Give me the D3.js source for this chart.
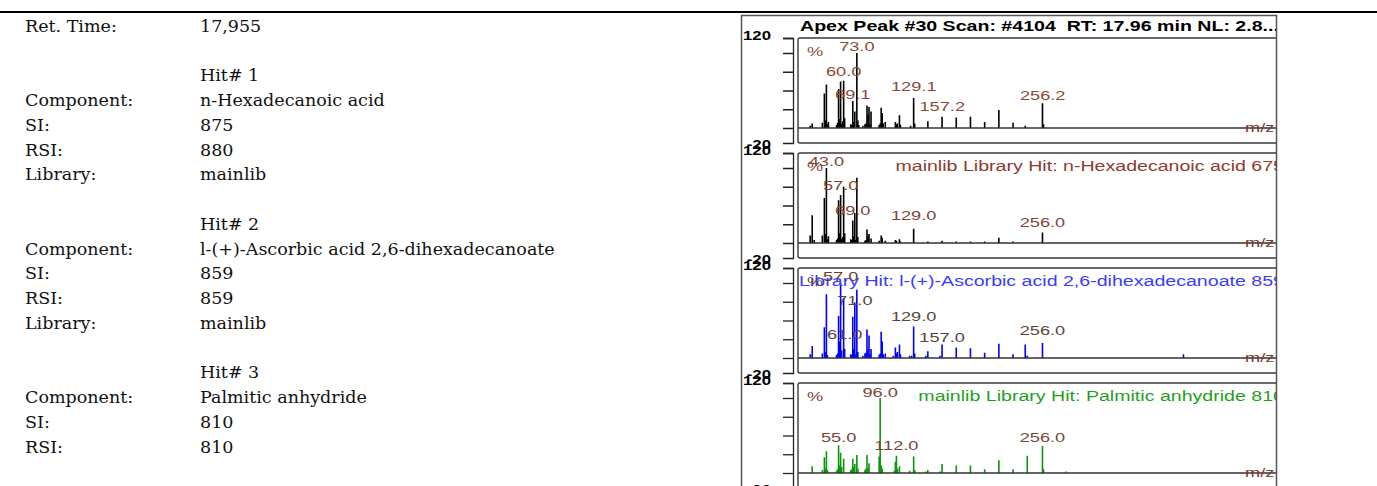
<!DOCTYPE html>
<html><head><meta charset="utf-8">
<script src="https://cdn.jsdelivr.net/npm/d3@7"></script>
<style>html,body{margin:0;padding:0;background:#fff;overflow:hidden}</style>
</head><body>
<svg id="c" width="1377" height="486"></svg>
<script>
// ---------- left table ----------
const rowLabels = ["Ret. Time:", "", "", "Component:", "SI:", "RSI:", "Library:", "", "", "Component:", "SI:", "RSI:", "Library:", "", "", "Component:", "SI:", "RSI:"];
const rowValues = ["17,955", "", "Hit# 1", "n-Hexadecanoic acid", "875", "880", "mainlib", "", "Hit# 2", "l-(+)-Ascorbic acid 2,6-dihexadecanoate", "859", "859", "mainlib", "", "Hit# 3", "Palmitic anhydride", "810", "810"];

// ---------- spectra ----------
const panelTitles = ["Apex Peak #30 Scan: #4104  RT: 17.96 min NL: 2.8...",
  "mainlib Library Hit: n-Hexadecanoic acid 675",
  "Library Hit: l-(+)-Ascorbic acid 2,6-dihexadecanoate 859",
  "mainlib Library Hit: Palmitic anhydride 810"];

const scanMz  = [27,29,39,41,42,43,44,45,53,54,55,56,57,58,59,60,61,67,68,69,70,71,73,74,75,79,81,82,83,84,85,86,87,95,96,97,98,99,101,111,112,113,115,116,126,129,130,143,157,171,185,199,213,227,239,256,257];
const scanInt = [3,6,7,46,10,58,5,8,4,7,52,12,62,6,9,63,13,5,4,36,8,22,100,10,4,3,5,6,30,18,28,5,22,4,6,27,20,6,8,8,5,6,17,4,3,40,6,9,15,14,15,8,24,7,3,33,5];

const hit1Mz  = [27,29,31,39,41,42,43,44,45,53,54,55,56,57,58,59,60,61,67,68,69,70,71,72,73,74,81,82,83,84,85,87,95,97,98,101,111,112,115,116,129,143,157,171,185,199,213,227,256];
const hit1Int = [10,37,4,10,60,12,100,5,9,4,6,57,13,64,5,8,75,13,5,4,30,9,40,4,87,8,3,4,18,9,12,6,3,10,7,3,4,3,5,2,19,2,3,2,2,2,7,2,14];

const hit2Mz  = [27,29,39,41,42,43,44,53,54,55,56,57,58,60,61,67,68,69,70,71,72,73,74,79,81,82,83,84,85,86,87,95,96,97,98,99,101,109,111,112,113,115,116,125,127,129,130,141,143,155,157,171,185,199,213,227,239,241,256,395];
const hit2Int = [5,16,6,41,8,85,4,4,6,56,22,100,10,80,12,5,4,55,12,74,5,91,8,3,6,7,38,12,30,5,12,4,6,35,22,5,6,3,14,6,8,18,5,3,3,42,6,3,9,3,18,14,13,7,19,5,18,3,20,5];

const hit3Mz  = [29,39,41,42,43,44,53,54,55,56,57,58,60,67,68,69,70,71,73,74,81,82,83,84,85,95,96,97,98,110,111,112,113,115,125,129,130,141,143,155,157,171,185,199,213,227,241,256,257,279];
const hit3Int = [9,4,21,6,29,4,3,5,37,10,27,8,19,4,5,19,8,12,24,6,4,6,24,7,13,22,100,10,6,3,15,23,6,9,3,22,4,2,4,2,12,10,10,5,17,5,23,36,5,2];

const scanLabels = ["73.0","60.0","69.1","129.1","157.2","256.2"];
const scanLabelMz = [73,60,69,129.1,157.2,256.2];
const scanLabelLevel = [109,75,45,55,29,44];
const hit1Labels = ["43.0","57.0","69.0","129.0","256.0"];
const hit1LabelMz = [43,57,69,129,256];
const hit1LabelLevel = [109,77,44,37,27];
const hit2Labels = ["57.0","71.0","129.0","61.0","157.0","256.0"];
const hit2LabelMz = [57,71,129,61,157,256];
const hit2LabelLevel = [109,77,56,32,28,37];
const hit3Labels = ["96.0","55.0","112.0","256.0"];
const hit3LabelMz = [96,55,112,256];
const hit3LabelLevel = [107,48,37,48];

const yTicks = [0,25,50,75,100,120];
const yEndLabels = ["120","-20"];

// ---------- drawing ----------
const svg = d3.select("#c");
const SX = 1.4; // horizontal stretch of the pasted spectrum picture

svg.append("line").attr("x1",0).attr("x2",1377).attr("y1",12).attr("y2",12)
  .attr("stroke","#000").attr("stroke-width",2);

const rowY = d3.scaleLinear().domain([0,17]).range([26,446.6]);
const tbl = svg.append("g").style("font-family","'DejaVu Serif', serif").style("font-size","17.5px").attr("fill","#111");
tbl.selectAll("text.l").data(rowLabels).join("text").attr("class","l")
  .attr("x",25).attr("y",(d,i)=>rowY(i)).attr("dominant-baseline","central").text(d=>d);
tbl.selectAll("text.v").data(rowValues).join("text").attr("class","v")
  .attr("x",200).attr("y",(d,i)=>rowY(i)).attr("dominant-baseline","central").text(d=>d);

const defs = svg.append("defs");
defs.append("clipPath").attr("id","clipFig").append("rect")
  .attr("x",741).attr("y",15).attr("width",535.5).attr("height",480);

const fig = svg.append("g").attr("clip-path","url(#clipFig)").style("font-family","'Liberation Sans', Arial, sans-serif");

function stext(g, x, y, txt, size, color, anchor, weight){
  return g.append("text")
    .attr("transform",`translate(${x},${y}) scale(${SX},1)`)
    .attr("text-anchor",anchor||"start").attr("dominant-baseline","central")
    .style("font-size",size+"px").style("font-weight",weight||"normal")
    .style("white-space","pre").attr("fill",color).text(txt);
}

const x = d3.scaleLinear().domain([15,500]).range([798,1290]);

const panels = [
  {mz:scanMz, v:scanInt, lab:scanLabels, lmz:scanLabelMz, lv:scanLabelLevel, bar:"#000", lc:"#8a4a3a", tc:"#000"},
  {mz:hit1Mz, v:hit1Int, lab:hit1Labels, lmz:hit1LabelMz, lv:hit1LabelLevel, bar:"#000", lc:"#7e4636", tc:"#8c3b2f"},
  {mz:hit2Mz, v:hit2Int, lab:hit2Labels, lmz:hit2LabelMz, lv:hit2LabelLevel, bar:"#0000ff", lc:"#5e4438", tc:"#3b3bff"},
  {mz:hit3Mz, v:hit3Int, lab:hit3Labels, lmz:hit3LabelMz, lv:hit3LabelLevel, bar:"#0a960a", lc:"#74483a", tc:"#1f9f1f"}
];

panels.forEach((p,k)=>{
  const base = 128 + 115*k;
  const y = d3.scaleLinear().domain([-20,120]).range([base+15, base-90]);
  const g = fig.append("g");
  // panel box
  g.append("rect").attr("x",798).attr("y",y(120)).attr("width",520).attr("height",y(-20)-y(120))
    .attr("fill","none").attr("stroke","#3a3a3a").attr("stroke-width",1.4).attr("rx",2);
  // bars
  g.selectAll("line.bar").data(d3.zip(p.mz,p.v)).join("line").attr("class","bar")
    .attr("x1",d=>x(d[0])).attr("x2",d=>x(d[0]))
    .attr("y1",y(0)).attr("y2",d=>y(d[1]))
    .attr("stroke",p.bar).attr("stroke-width",1.6);
  // baseline (m/z axis)
  g.append("line").attr("x1",798).attr("x2",1290).attr("y1",y(0)).attr("y2",y(0))
    .attr("stroke","#333").attr("stroke-width",1.3);
  // y axis bracket
  const ax = g.append("g").attr("transform","translate(793,0)")
    .call(d3.axisLeft(y).tickValues(yTicks).tickSize(10).tickSizeOuter(10).tickFormat(""));
  ax.selectAll("path,line").attr("stroke","#222").attr("stroke-width",1.3);
  stext(g, 771, y(120)-2, yEndLabels[0], 12, "#000", "end", "bold");
  stext(g, 771, y(-20)+2, yEndLabels[1], 12, "#000", "end", "bold");
  // title
  if(k===0) stext(g, 800, 26, panelTitles[0], 14, "#000", "start", "bold");
  else stext(g, 1284, y(120)+13, panelTitles[k], 14, p.tc, "end");
  // % sign
  stext(g, 807, y(120)+13, "%", 13, p.lc, "start");
  // m/z label
  stext(g, 1245, y(0)-1, "m/z", 13, "#7a3a2e", "start");
  // peak labels
  p.lab.forEach((t,i)=>{
    stext(g, x(p.lmz[i]), y(p.lv[i]), t, 13, p.lc, "middle");
  });
});

// outer frame of the pasted spectrum
svg.append("path").attr("d","M741.5,486 V15.5 H1276.5 V486")
  .attr("fill","none").attr("stroke","#555").attr("stroke-width",1.5);
</script>
</body></html>
